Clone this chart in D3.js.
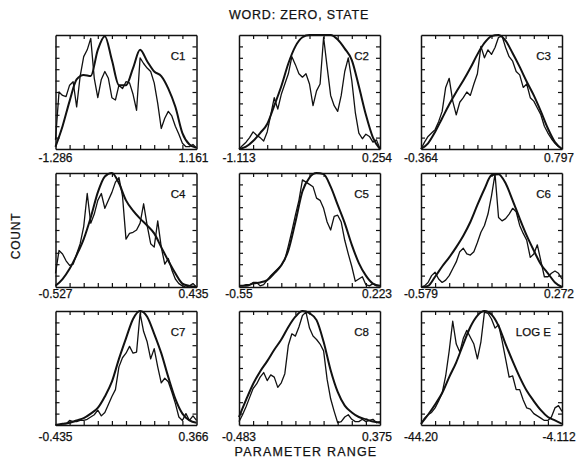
<!DOCTYPE html>
<html>
<head>
<meta charset="utf-8">
<script src="https://d3js.org/d3.v7.min.js"></script>
<style>
  body { margin: 0; background: #fff; font-family: "Liberation Sans", Arial, sans-serif; }
  svg text { fill: #111; stroke: #111; stroke-width: 0.25px; }
  .frame path.domain { stroke: #111; stroke-width: 1.5; }
  .frame line { stroke: #111; stroke-width: 1.2; }
  .hist { fill: none; stroke: #111; stroke-width: 1.3; stroke-linejoin: round; }
  .fit { fill: none; stroke: #111; stroke-width: 2.0; }
</style>
</head>
<body>
<script>
// panel names and the parameter range printed under each box
var panelNames = ["C1", "C2", "C3", "C4", "C5", "C6", "C7", "C8", "LOG E"];
var rangeMin = [-1.286, -1.113, -0.364, -0.527, -0.55, -0.579, -0.435, -0.483, -44.20];
var rangeMax = [1.161, 0.254, 0.797, 0.435, 0.223, 0.272, 0.366, 0.375, -4.112];
var minLabels = ["-1.286", "-1.113", "-0.364", "-0.527", "-0.55", "-0.579", "-0.435", "-0.483", "-44.20"];
var maxLabels = ["1.161", "0.254", "0.797", "0.435", "0.223", "0.272", "0.366", "0.375", "-4.112"];

// histogram counts (41 bins across the range), scaled so the box top is 100
var c1Hist = [8,50,47,46,56,59,37,64,81,87,97,62,45,61,68,62,45,43,56,53,59,58,48,34,80,75,71,68,58,40,18,27,33,29,20,13,5,2,2,4,1];
var c2Hist = [0,3,6,10,15,12,10,7,15,30,45,35,48,57,66,81,74,66,63,66,57,38,51,57,98,72,47,38,33,47,68,80,60,32,14,9,13,11,6,8,0];
var c3Hist = [0,6,11,14,17,24,33,54,62,42,30,41,45,50,47,57,66,90,80,87,83,89,98,99,89,81,77,68,65,54,57,45,42,36,30,20,14,9,5,2,0];
var c4Hist = [12,32,29,23,19,20,29,38,53,82,56,64,76,82,69,76,83,92,96,80,42,47,48,50,56,73,54,38,35,58,35,20,25,15,7,3,1,0,1,3,0];
var c5Hist = [1,1,2,2,4,4,1,2,6,10,13,16,19,24,36,49,63,76,94,92,90,88,78,76,69,57,50,62,63,57,41,29,18,5,7,9,2,1,3,1,1];
var c6Hist = [0,1,4,10,13,7,4,6,10,16,22,31,34,29,28,31,39,48,54,64,80,99,61,58,60,64,69,66,54,47,41,26,29,37,23,9,9,12,14,12,7];
var c7Hist = [0,0,1,1,4,3,3,4,4,5,7,9,13,8,11,18,25,31,51,59,63,69,63,64,98,82,73,58,67,51,37,41,38,29,19,7,4,10,4,8,4];
var c8Hist = [3,9,16,24,32,36,42,46,39,44,42,33,37,45,70,80,78,86,96,99,85,78,75,71,65,40,23,12,2,3,7,9,5,3,3,5,3,4,5,2,3];
var logEHist = [1,6,9,11,15,21,28,43,65,91,71,64,76,83,77,71,58,73,99,98,93,85,88,74,58,42,43,31,31,22,15,14,10,8,6,4,4,7,15,17,12];

// fitted (smooth) curve, 21 points across the same range
var c1Fit = [2,20,42,61,65,64,87,99,78,56,56,71,87,77,68,64,53,37,14,4,1];
var c2Fit = [0,2,7,14,22,38,55,75,90,98,100,100,100,100,96,88,78,55,30,10,0];
var c3Fit = [0,5,15,27,39,50,60,71,83,93,99,100,95,84,72,59,47,33,18,6,0];
var c4Fit = [1,7,16,28,42,61,83,97,100,91,76,67,60,54,47,35,23,12,3,1,0];
var c5Fit = [1,1,3,4,6,12,19,32,57,84,96,100,99,88,72,56,37,21,10,3,1];
var c6Fit = [0,1,9,18,26,35,45,57,72,86,98,99,91,76,60,45,32,20,12,4,0];
var c7Fit = [0,1,2,4,6,10,15,25,38,58,76,93,100,95,80,63,42,23,10,4,2];
var c8Fit = [7,22,36,47,56,66,75,86,95,100,98,92,73,48,29,17,11,7,5,3,2];
var logEFit = [1,9,18,28,42,55,71,86,96,100,97,87,71,56,42,30,21,13,7,4,1];

var hists = [c1Hist, c2Hist, c3Hist, c4Hist, c5Hist, c6Hist, c7Hist, c8Hist, logEHist];
var fits = [c1Fit, c2Fit, c3Fit, c4Fit, c5Fit, c6Fit, c7Fit, c8Fit, logEFit];

var colLeft = [55.5, 239, 421],
    rowTop = [35, 173, 311],
    labelDrop = [13, 11, 16],
    pw = 141,
    ph = 114;

var svg = d3.select("body").append("svg")
  .attr("width", 583)
  .attr("height", 460);

svg.append("text")
  .attr("x", 299).attr("y", 19)
  .attr("text-anchor", "middle")
  .style("font-size", "12.5px")
  .style("letter-spacing", "0.8px")
  .text("WORD: ZERO, STATE");

svg.append("text")
  .attr("transform", "translate(20,236) rotate(-90)")
  .attr("text-anchor", "middle")
  .style("font-size", "12px")
  .style("letter-spacing", "0.8px")
  .text("COUNT");

svg.append("text")
  .attr("x", 306).attr("y", 456)
  .attr("text-anchor", "middle")
  .style("font-size", "12.5px")
  .style("letter-spacing", "1.2px")
  .text("PARAMETER RANGE");

panelNames.forEach(function(name, i) {
  var lo = rangeMin[i], hi = rangeMax[i];
  var row = Math.floor(i / 3);
  var g = svg.append("g")
    .attr("transform", "translate(" + colLeft[i % 3] + "," + rowTop[row] + ")");

  var x = d3.scaleLinear().domain([lo, hi]).range([0, pw]);
  var y = d3.scaleLinear().domain([0, 100]).range([ph, 0]);

  // ten divisions on every side, ticks pointing inward
  var xTicks = d3.range(1, 10).map(function(k) { return lo + k * (hi - lo) / 10; });
  var yTicks = d3.range(10, 100, 10);

  g.append("g").attr("class", "frame")
    .attr("transform", "translate(0," + ph + ")")
    .call(d3.axisBottom(x).tickValues(xTicks).tickSize(-4).tickSizeOuter(0).tickFormat(""));
  g.append("g").attr("class", "frame")
    .call(d3.axisTop(x).tickValues(xTicks).tickSize(-4).tickSizeOuter(0).tickFormat(""));
  g.append("g").attr("class", "frame")
    .call(d3.axisLeft(y).tickValues(yTicks).tickSize(-4).tickSizeOuter(0).tickFormat(""));
  g.append("g").attr("class", "frame")
    .attr("transform", "translate(" + pw + ",0)")
    .call(d3.axisRight(y).tickValues(yTicks).tickSize(-4).tickSizeOuter(0).tickFormat(""));

  var hist = hists[i], fit = fits[i];

  var histLine = d3.line()
    .x(function(d, k) { return x(lo + k * (hi - lo) / (hist.length - 1)); })
    .y(function(d) { return y(d); });

  var fitLine = d3.line()
    .curve(d3.curveMonotoneX)
    .x(function(d, k) { return x(lo + k * (hi - lo) / (fit.length - 1)); })
    .y(function(d) { return y(d); });

  g.append("path").attr("class", "hist").attr("d", histLine(hist));
  g.append("path").attr("class", "fit").attr("d", fitLine(fit));

  g.append("text")
    .attr("x", pw - 11).attr("y", 25)
    .attr("text-anchor", "end")
    .style("font-size", "11.5px")
    .text(name);

  g.append("text")
    .attr("x", x(lo)).attr("y", ph + labelDrop[row])
    .attr("text-anchor", "middle")
    .style("font-size", "12px")
    .text(minLabels[i]);

  g.append("text")
    .attr("x", x(hi) - 3).attr("y", ph + labelDrop[row])
    .attr("text-anchor", "middle")
    .style("font-size", "12px")
    .text(maxLabels[i]);
});
</script>
</body>
</html>
